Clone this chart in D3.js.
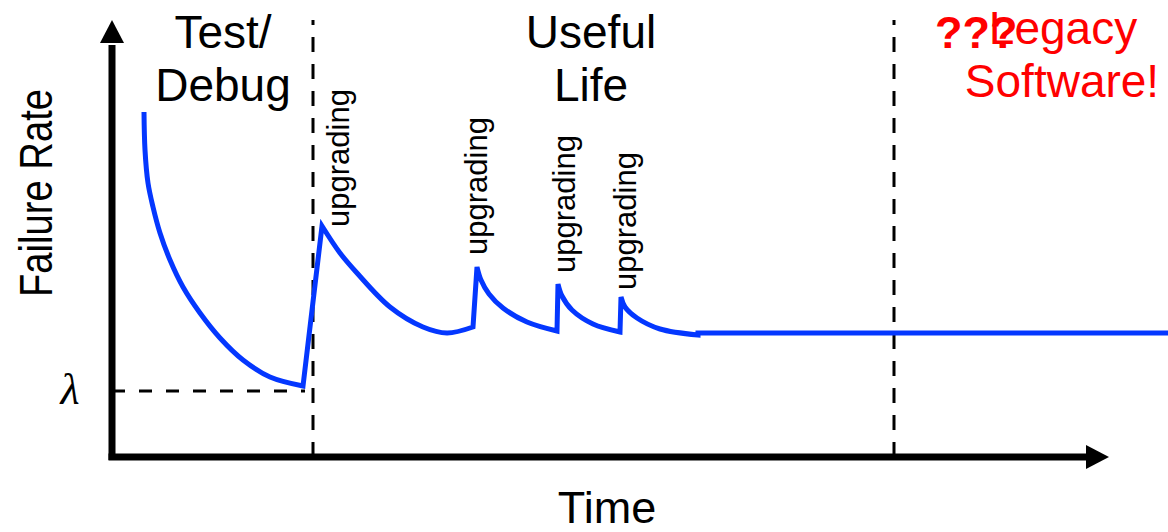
<!DOCTYPE html>
<html>
<head>
<meta charset="utf-8">
<title>Failure rate curve</title>
<script src="https://cdn.jsdelivr.net/npm/d3@7"></script>
<style>
html, body { margin: 0; padding: 0; background: #fff; }
svg { display: block; font-family: "Liberation Sans", Arial, Helvetica, sans-serif; }
</style>
</head>
<body>
<div id="chart"></div>
<script>
// curve pieces (t = time, r = failure rate)
const burnIn   = [[32,345],[33,307],[36,274],[41,250],[48,224],[58,197],[71,170],[88,144],[108,119],[131,97],[158,80],[191,71]];
const upgrade1 = [[210,231],[228,204],[245,184],[278,150],[311,130],[335,124],[361,130]];
const upgrade2 = [[365,190],[369,177],[377,163],[391,149],[415,135],[445,126]];
const upgrade3 = [[446,173],[450,161],[460,147],[481,133],[508,125]];
const upgrade4 = [[509,160],[513,150],[525,139],[548,128],[586,122]];
const steady   = [[586,124],[1056,124]];
const pieces = [burnIn, upgrade1, upgrade2, upgrade3, upgrade4, steady];

// labels
const phaseLabels = [
    { t: 111, lines: ["Test/", "Debug"] },
    { t: 479, lines: ["Useful", "Life"] }
];
const upgradeLabels = [
    { t: 237, r: 230 },
    { t: 375, r: 202 },
    { t: 463, r: 184 },
    { t: 524, r: 167 }
];
const lambdaRate = 66;
const phaseBounds = [201, 782];

const W = 1168, H = 532;
const x = d3.scaleLinear().domain([0, 1000]).range([112, 1112]);
const y = d3.scaleLinear().domain([0, 440]).range([457, 17]);

const svg = d3.select("#chart").append("svg").attr("width", W).attr("height", H);

// dashed guides
svg.selectAll(".bound").data(phaseBounds).enter().append("line")
    .attr("x1", d => x(d)).attr("x2", d => x(d))
    .attr("y1", y(0)).attr("y2", y(437))
    .attr("stroke", "#000").attr("stroke-width", 3)
    .attr("stroke-dasharray", "15 12");

svg.append("line")
    .attr("x1", x(0)).attr("x2", x(193))
    .attr("y1", y(lambdaRate)).attr("y2", y(lambdaRate))
    .attr("stroke", "#000").attr("stroke-width", 3)
    .attr("stroke-dasharray", "13 14");

// axes with arrows
svg.append("line")
    .attr("x1", x(0)).attr("x2", x(0))
    .attr("y1", y(-3)).attr("y2", y(412))
    .attr("stroke", "#000").attr("stroke-width", 7);
svg.append("path")
    .attr("d", `M${x(0) - 12},${y(414)}L${x(0)},${y(437)}L${x(0) + 12},${y(414)}Z`)
    .attr("fill", "#000");
svg.append("line")
    .attr("x1", x(-3.5)).attr("x2", x(974))
    .attr("y1", y(0)).attr("y2", y(0))
    .attr("stroke", "#000").attr("stroke-width", 7);
svg.append("path")
    .attr("d", `M${x(974)},${y(12)}L${x(997)},${y(0)}L${x(974)},${y(-12)}Z`)
    .attr("fill", "#000");

// failure rate curve
const line = d3.line().x(d => x(d[0])).y(d => y(d[1])).curve(d3.curveCatmullRom.alpha(0.5));
const pathD = pieces.map((p, i) => {
    const d = line(p);
    return i ? d.replace(/^M/, "L") : d;
}).join("");
svg.append("path")
    .attr("d", pathD)
    .attr("fill", "none")
    .attr("stroke", "#0437ff")
    .attr("stroke-width", 5)
    .attr("stroke-linejoin", "miter");

// axis titles
svg.append("text")
    .attr("transform", `translate(52,${y(264)}) rotate(-90)`)
    .attr("text-anchor", "middle")
    .attr("font-size", 47)
    .attr("textLength", 208)
    .attr("lengthAdjust", "spacingAndGlyphs")
    .text("Failure Rate");
svg.append("text")
    .attr("x", 607).attr("y", 523)
    .attr("text-anchor", "middle")
    .attr("font-size", 45)
    .text("Time");

svg.append("text")
    .attr("x", 70).attr("y", 404)
    .attr("text-anchor", "middle")
    .attr("font-family", "'Liberation Serif', 'DejaVu Serif', serif")
    .attr("font-style", "italic")
    .attr("font-size", 44)
    .text("λ");

// phase labels
phaseLabels.forEach(p => {
    const t = svg.append("text").attr("text-anchor", "middle").attr("font-size", 46);
    p.lines.forEach((s, i) => {
        t.append("tspan").attr("x", x(p.t)).attr("y", 48 + i * 53).text(s);
    });
});

// upgrading labels
svg.selectAll(".up").data(upgradeLabels).enter().append("text")
    .attr("transform", d => `translate(${x(d.t)},${y(d.r)}) rotate(-90)`)
    .attr("font-size", 31)
    .text("upgrading");

// legacy annotation
const legacy = svg.append("text").attr("text-anchor", "middle").attr("font-size", 46).attr("fill", "#ff0000");
legacy.append("tspan").attr("x", 1063).attr("y", 44).text("Legacy");
legacy.append("tspan").attr("x", 1062).attr("y", 97).text("Software!");
svg.append("text")
    .attr("x", 935).attr("y", 48)
    .attr("font-size", 45).attr("font-weight", "bold")
    .attr("fill", "#ff0000")
    .text("???");
</script>
</body>
</html>
